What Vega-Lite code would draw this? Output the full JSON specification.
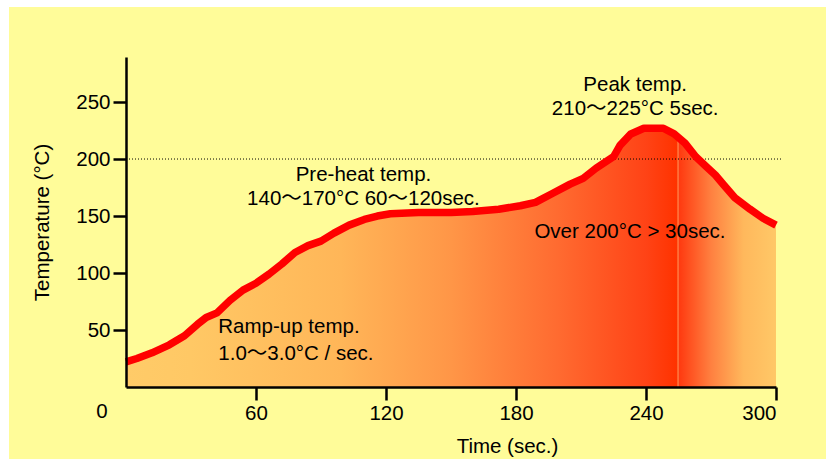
{
  "$schema": "https://vega.github.io/schema/vega-lite/v6.json",
  "width": 650,
  "height": 330,
  "autosize": {"type": "none"},
  "padding": {"left": 126, "top": 57, "right": 50, "bottom": 72},
  "background": "white",
  "config": {
    "view": {"stroke": null},
    "font": "Liberation Sans, Arial, Noto Sans CJK JP",
    "text": {"font": "Liberation Sans, Arial, Noto Sans CJK JP", "fontSize": 20.5, "color": "black"}
  },
  "datasets": {
    "profile": [
      {"t": 0, "T": 22}, {"t": 5, "T": 25}, {"t": 12, "T": 30}, {"t": 20, "T": 37},
      {"t": 27, "T": 45}, {"t": 33, "T": 55}, {"t": 37, "T": 61}, {"t": 42, "T": 65},
      {"t": 48, "T": 76}, {"t": 54, "T": 85}, {"t": 60, "T": 91}, {"t": 66, "T": 99},
      {"t": 72, "T": 108}, {"t": 78, "T": 118}, {"t": 84, "T": 124}, {"t": 90, "T": 128},
      {"t": 96, "T": 135}, {"t": 103, "T": 142}, {"t": 110, "T": 147}, {"t": 116, "T": 150},
      {"t": 122, "T": 152}, {"t": 135, "T": 153}, {"t": 150, "T": 153}, {"t": 160, "T": 154},
      {"t": 172, "T": 156}, {"t": 182, "T": 159}, {"t": 189, "T": 162}, {"t": 197, "T": 170},
      {"t": 205, "T": 178}, {"t": 211, "T": 183}, {"t": 217, "T": 192}, {"t": 225, "T": 202},
      {"t": 228, "T": 212}, {"t": 233, "T": 222}, {"t": 239, "T": 227}, {"t": 248, "T": 227},
      {"t": 253, "T": 222}, {"t": 258, "T": 214}, {"t": 263, "T": 202}, {"t": 268, "T": 193},
      {"t": 272, "T": 186}, {"t": 276, "T": 177}, {"t": 281, "T": 166}, {"t": 288, "T": 156},
      {"t": 294, "T": 148}, {"t": 300, "T": 142}
    ],
    "notesCenter": [
      {"t": 235, "T": 260, "label": "Peak temp."},
      {"t": 235, "T": 238.6, "label": "210〜225°C 5sec."},
      {"t": 109.6, "T": 180.7, "label": "Pre-heat temp."},
      {"t": 109.6, "T": 159.6, "label": "140〜170°C 60〜120sec."},
      {"t": 232.6, "T": 130.4, "label": "Over 200°C > 30sec."}
    ],
    "notesLeft": [
      {"t": 42.6, "T": 47.1, "label": "Ramp-up temp."},
      {"t": 42.6, "T": 23.7, "label": "1.0〜3.0°C / sec."}
    ],
    "one": [{}]
  },
  "layer": [
    {
      "data": {"name": "one"},
      "mark": {"type": "rect", "color": "#FFFC99"},
      "encoding": {
        "x": {"datum": -54, "type": "quantitative"},
        "x2": {"datum": 340},
        "y": {"datum": 333.3, "type": "quantitative"},
        "y2": {"datum": -80}
      }
    },
    {
      "data": {"name": "profile"},
      "mark": {
        "type": "area",
        "color": {
          "gradient": "linear", "x1": 0, "y1": 0, "x2": 1, "y2": 0,
          "stops": [
            {"offset": 0, "color": "#FFCB68"},
            {"offset": 0.1, "color": "#FFC865"},
            {"offset": 0.33, "color": "#FFB658"},
            {"offset": 0.5, "color": "#FF9647"},
            {"offset": 0.667, "color": "#FF6A30"},
            {"offset": 0.8, "color": "#FF4316"},
            {"offset": 0.846, "color": "#FF3300"},
            {"offset": 0.848, "color": "#FF3300"},
            {"offset": 0.849, "color": "#FFA060"},
            {"offset": 0.851, "color": "#FF3A10"},
            {"offset": 0.9, "color": "#FF8040"},
            {"offset": 0.95, "color": "#FFB85C"},
            {"offset": 1, "color": "#FFC867"}
          ]
        }
      },
      "encoding": {
        "x": {
          "field": "t", "type": "quantitative",
          "scale": {"domain": [0, 300], "nice": false, "zero": false},
          "axis": {
            "title": "Time (sec.)", "values": [60, 120, 180, 240, 300], "zindex": 1,
            "grid": false, "domainColor": "black", "domainWidth": 2.5,
            "tickColor": "black", "tickWidth": 2.5, "tickSize": 13,
            "labelFontSize": 20.5, "labelColor": "black", "labelPadding": 3,
            "labelFont": "Liberation Sans",
            "titleFontSize": 20.5, "titleFontWeight": "normal", "titleColor": "black",
            "titleFont": "Liberation Sans",
            "titleX": 381, "titleY": 65, "titleBaseline": "alphabetic", "titleAlign": "center"
          }
        },
        "y": {
          "field": "T", "type": "quantitative",
          "scale": {"domain": [0, 289.5], "nice": false, "zero": false},
          "axis": {
            "title": "Temperature (°C)", "values": [50, 100, 150, 200, 250], "zindex": 1,
            "grid": false, "domainColor": "black", "domainWidth": 2.5,
            "tickColor": "black", "tickWidth": 2.5, "tickSize": 13,
            "labelFontSize": 20.5, "labelColor": "black", "labelPadding": 3,
            "labelFont": "Liberation Sans",
            "titleFontSize": 20.5, "titleFontWeight": "normal", "titleColor": "black",
            "titleFont": "Liberation Sans",
            "titleX": -78, "titleY": 165, "titleAngle": -90,
            "titleBaseline": "alphabetic", "titleAlign": "center"
          }
        }
      }
    },
    {
      "data": {"name": "one"},
      "mark": {"type": "rule", "color": "black", "strokeWidth": 1, "strokeDash": [1, 2]},
      "encoding": {
        "x": {"datum": 0, "type": "quantitative"},
        "x2": {"datum": 302.5},
        "y": {"datum": 200, "type": "quantitative"}
      }
    },
    {
      "data": {"name": "profile"},
      "mark": {"type": "line", "color": "#FF0000", "strokeWidth": 7.5, "strokeJoin": "round", "strokeCap": "butt"},
      "encoding": {
        "x": {"field": "t", "type": "quantitative"},
        "y": {"field": "T", "type": "quantitative"}
      }
    },
    {
      "data": {"name": "notesCenter"},
      "mark": {"type": "text", "align": "center", "baseline": "alphabetic"},
      "encoding": {
        "x": {"field": "t", "type": "quantitative"},
        "y": {"field": "T", "type": "quantitative"},
        "text": {"field": "label"}
      }
    },
    {
      "data": {"name": "notesLeft"},
      "mark": {"type": "text", "align": "left", "baseline": "alphabetic"},
      "encoding": {
        "x": {"field": "t", "type": "quantitative"},
        "y": {"field": "T", "type": "quantitative"},
        "text": {"field": "label"}
      }
    },
    {
      "data": {"name": "one"},
      "mark": {"type": "text", "align": "center", "baseline": "alphabetic", "text": "0"},
      "encoding": {
        "x": {"datum": -11.1, "type": "quantitative"},
        "y": {"datum": -27.2, "type": "quantitative"}
      }
    }
  ]
}
